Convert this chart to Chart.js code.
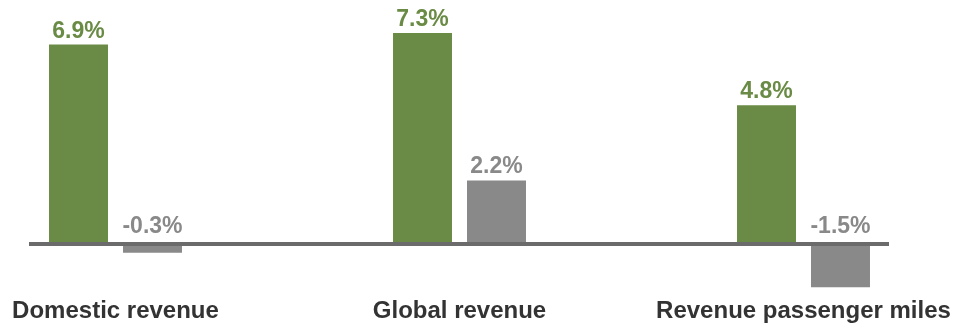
<!DOCTYPE html>
<html>
<head>
<meta charset="utf-8">
<script src="https://cdn.jsdelivr.net/npm/chart.js@4"></script>
<style>
  html, body { margin: 0; padding: 0; background: #fff; }
  #wrap { width: 955px; height: 324px; position: relative; }
</style>
</head>
<body>
<div id="wrap"><canvas id="chart"></canvas></div>
<script>
const categories = ['Domestic revenue', 'Global revenue', 'Revenue passenger miles'];
const greenValues = [6.9, 7.3, 4.8];
const grayValues = [-0.3, 2.2, -1.5];

const green = '#6a8b45';
const gray = '#898989';
const fontFamily = '"Liberation Sans", Arial, Helvetica, sans-serif';

// draws the thick zero line across the whole chart
const baselinePlugin = {
  id: 'baseline',
  afterDatasetsDraw(chart) {
    const ctx = chart.ctx;
    const area = chart.chartArea;
    const y = chart.scales.y.getPixelForValue(0);
    ctx.save();
    ctx.strokeStyle = '#6b6b6b';
    ctx.lineWidth = 4;
    ctx.beginPath();
    ctx.moveTo(area.left - 86.5, y);
    ctx.lineTo(area.right + 85.5, y);
    ctx.stroke();
    ctx.restore();
  }
};

// value labels over each bar (negative ones sit above the zero line)
const valueLabels = {
  id: 'valueLabels',
  afterDatasetsDraw(chart) {
    const ctx = chart.ctx;
    const zeroY = chart.scales.y.getPixelForValue(0);
    ctx.save();
    ctx.font = 'bold 23px ' + fontFamily;
    ctx.textAlign = 'center';
    ctx.textBaseline = 'alphabetic';
    chart.data.datasets.forEach((ds, i) => {
      const meta = chart.getDatasetMeta(i);
      ctx.fillStyle = ds.backgroundColor;
      meta.data.forEach((bar, j) => {
        const v = ds.data[j];
        const y = v >= 0 ? bar.y - 7 : zeroY - 11;
        ctx.fillText(v.toFixed(1) + '%', bar.x, y);
      });
    });
    ctx.restore();
  }
};

new Chart(document.getElementById('chart').getContext('2d'), {
  type: 'bar',
  data: {
    labels: categories,
    datasets: [
      { label: 'Series 1', data: greenValues, backgroundColor: green, clip: false },
      { label: 'Series 2', data: grayValues, backgroundColor: gray, clip: false }
    ]
  },
  options: {
    responsive: true,
    maintainAspectRatio: false,
    animation: false,
    categoryPercentage: 0.4302,
    barPercentage: 0.797,
    layout: { padding: { left: 115.5, right: 151.5, top: 12.8, bottom: 0 } },
    plugins: {
      legend: { display: false },
      tooltip: { enabled: false }
    },
    scales: {
      x: {
        offset: false,
        grid: { display: false, drawTicks: false },
        border: { display: false },
        ticks: {
          color: '#333333',
          padding: 0.7,
          maxRotation: 0,
          autoSkip: false,
          font: { family: fontFamily, size: 24, weight: 'bold', lineHeight: 1 }
        }
      },
      y: {
        display: false,
        min: -1.89,
        max: 8
      }
    }
  },
  plugins: [baselinePlugin, valueLabels]
});
</script>
</body>
</html>
